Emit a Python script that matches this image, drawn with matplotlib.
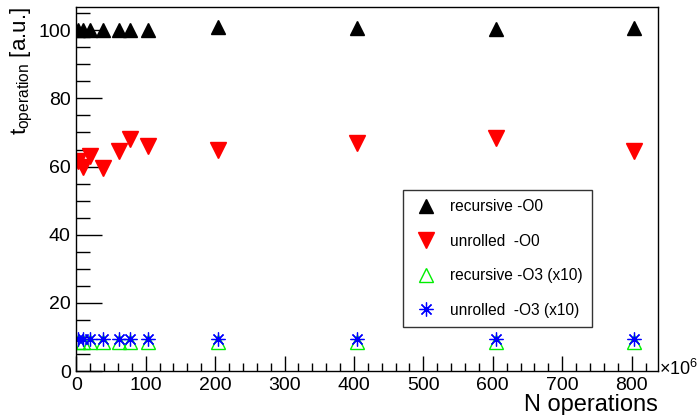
import matplotlib
matplotlib.use("Agg")
import matplotlib.pyplot as plt
from matplotlib.ticker import MultipleLocator

plt.rcParams['font.family'] = ['Liberation Sans', 'DejaVu Sans']
plt.rcParams['mathtext.fontset'] = 'custom'
plt.rcParams['mathtext.rm'] = 'Liberation Sans'
plt.rcParams['mathtext.it'] = 'Liberation Sans'

# N operations (in units of 10^6)
n_ops = [3, 10, 20, 38, 62, 78, 104, 204, 404, 604, 804]

recursive_o0 = [100.2, 100.2, 100.2, 100.2, 100.2, 100.2, 100.2, 101.0, 100.8, 100.3, 100.8]
unrolled_o0 = [61.5, 60.0, 63.2, 59.6, 64.6, 68.2, 66.0, 65.0, 67.0, 68.5, 64.6]
recursive_o3 = [8.6, 8.6, 8.6, 8.6, 8.6, 8.6, 8.6, 8.6, 8.6, 8.6, 8.6]
unrolled_o3 = [9.4, 9.4, 9.4, 9.4, 9.4, 9.4, 9.4, 9.4, 9.4, 9.4, 9.4]

fig = plt.figure(figsize=(7.0, 4.15), dpi=100)
ax = fig.add_axes([0.109, 0.106, 0.831, 0.877])

ax.plot(n_ops, recursive_o0, linestyle='none', marker='^', color='black',
        markersize=10, label='recursive -O0')
ax.plot(n_ops, unrolled_o0, linestyle='none', marker='v', color='red',
        markersize=11, label='unrolled  -O0')
ax.plot(n_ops, recursive_o3, linestyle='none', marker='^', markerfacecolor='none',
        markeredgecolor='#00ee00', markersize=10, markeredgewidth=1.0,
        label='recursive -O3 (x10)')
ax.plot(n_ops, unrolled_o3, linestyle='none', marker=(8, 2, 0), color='blue',
        markersize=10, markeredgewidth=0.9, label='unrolled  -O3 (x10)')

ax.set_xlim(0, 838)
ax.set_ylim(0, 106.8)

ax.xaxis.set_major_locator(MultipleLocator(100))
ax.xaxis.set_minor_locator(MultipleLocator(20))
ax.yaxis.set_major_locator(MultipleLocator(20))
ax.yaxis.set_minor_locator(MultipleLocator(5))

ax.tick_params(axis='x', which='major', direction='in', length=11, width=1,
               labelsize=14, pad=4)
ax.tick_params(axis='x', which='minor', direction='in', length=6, width=1)
ax.tick_params(axis='y', which='major', direction='in', length=19, width=1,
               labelsize=14, pad=4)
ax.tick_params(axis='y', which='minor', direction='in', length=10, width=1)
for side in ['top', 'right', 'left', 'bottom']:
    ax.spines[side].set_linewidth(1.0)

ax.set_xlabel('N operations', fontsize=17, loc='right', labelpad=0)
ax.set_ylabel(r'$t_{\mathrm{operation}}$ [a.u.]', fontsize=16, loc='top', labelpad=2)

ax.text(1.002, 0.005, r'$\times10^{6}$', transform=ax.transAxes, fontsize=13,
        ha='left', va='center')

leg = ax.legend(loc='upper left', bbox_to_anchor=(0.562, 0.497), frameon=True,
                fancybox=False, edgecolor='black', fontsize=11.2,
                labelspacing=1.25, borderpad=0.6, handletextpad=0.7,
                handlelength=1.7, borderaxespad=0)
leg.get_frame().set_linewidth(1.0)

fig.savefig('out.png', dpi=100)
